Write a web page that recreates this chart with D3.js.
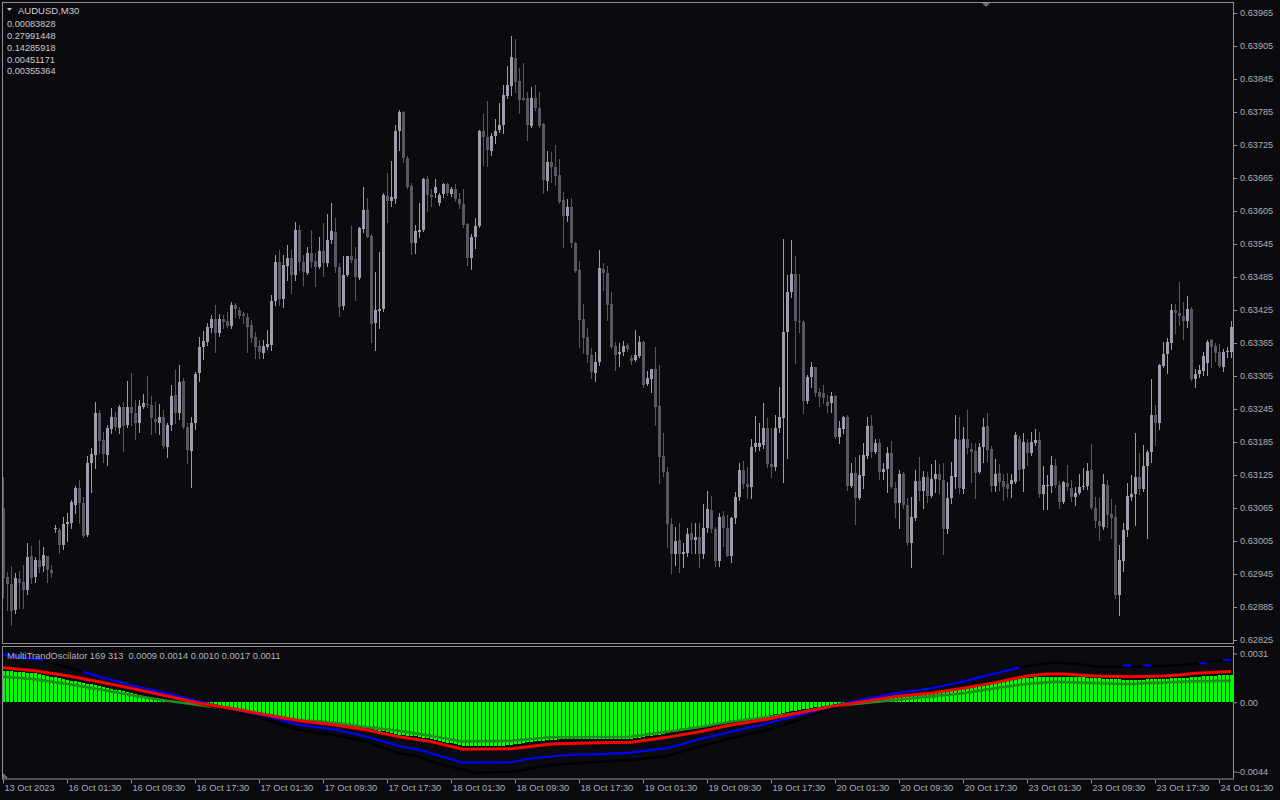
<!DOCTYPE html>
<html><head><meta charset="utf-8">
<script src="https://cdn.jsdelivr.net/npm/d3@7"></script>
<style>
html,body{margin:0;padding:0;background:#0b0b0f;overflow:hidden;}
svg{display:block;}
text{font-family:"Liberation Sans",Arial,sans-serif;white-space:pre;}
</style></head><body>
<svg id="c" width="1280" height="800"></svg>
<script>
const symbolTitle = "AUDUSD,M30";
const infoValues = ["0.00083828","0.27991448","0.14285918","0.00451171","0.00355364"];
const oscTitle = "MultiTrandOscilator 169 313  0.0009 0.0014 0.0010 0.0017 0.0011";

const opens = [0.63065,0.62940,0.62927,0.62880,0.62936,0.62930,0.62916,0.62978,0.62940,0.62970,
0.62960,0.62978,0.62952,0.63027,0.63025,0.62998,0.63036,0.63038,0.63070,0.63101,
0.63074,0.63016,0.63147,0.63161,0.63238,0.63189,0.63161,0.63209,0.63230,0.63210,
0.63249,0.63216,0.63249,0.63238,0.63220,0.63249,0.63255,0.63253,0.63227,0.63220,
0.63230,0.63176,0.63216,0.63270,0.63238,0.63296,0.63212,0.63169,0.63220,0.63310,
0.63358,0.63367,0.63392,0.63409,0.63383,0.63409,0.63405,0.63396,0.63434,0.63425,
0.63418,0.63412,0.63398,0.63376,0.63360,0.63347,0.63358,0.63361,0.63441,0.63512,
0.63445,0.63505,0.63520,0.63489,0.63570,0.63512,0.63492,0.63529,0.63514,0.63503,
0.63532,0.63510,0.63552,0.63567,0.63503,0.63432,0.63489,0.63524,0.63518,0.63484,
0.63572,0.63606,0.63560,0.63401,0.63423,0.63426,0.63632,0.63623,0.63627,0.63750,
0.63785,0.63701,0.63651,0.63547,0.63566,0.63570,0.63664,0.63635,0.63638,0.63620,
0.63636,0.63655,0.63636,0.63645,0.63627,0.63618,0.63581,0.63520,0.63558,0.63577,
0.63751,0.63740,0.63714,0.63741,0.63752,0.63761,0.63815,0.63832,0.63884,0.63842,
0.63810,0.63810,0.63760,0.63810,0.63792,0.63763,0.63660,0.63694,0.63685,0.63670,
0.63625,0.63596,0.63612,0.63547,0.63498,0.63408,0.63375,0.63343,0.63310,0.63330,
0.63500,0.63492,0.63436,0.63360,0.63345,0.63349,0.63361,0.63338,0.63334,0.63342,
0.63366,0.63290,0.63300,0.63318,0.63250,0.63160,0.63130,0.63036,0.62981,0.63006,
0.62981,0.62983,0.63019,0.63007,0.63013,0.62981,0.63028,0.63062,0.63027,0.62969,
0.63050,0.63029,0.62978,0.63047,0.63085,0.63134,0.63109,0.63103,0.63176,0.63176,
0.63180,0.63210,0.63145,0.63140,0.63210,0.63229,0.63385,0.63458,0.63490,0.63405,
0.63404,0.63259,0.63303,0.63321,0.63276,0.63274,0.63258,0.63256,0.63269,0.63194,
0.63209,0.63231,0.63105,0.63129,0.63083,0.63124,0.63160,0.63214,0.63167,0.63183,
0.63130,0.63136,0.63165,0.63102,0.63074,0.63127,0.63070,0.63001,0.63047,0.63114,
0.63096,0.63121,0.63087,0.63117,0.63127,0.63116,0.63027,0.63083,0.63121,0.63189,
0.63099,0.63190,0.63172,0.63169,0.63131,0.63176,0.63214,0.63172,0.63105,0.63129,
0.63114,0.63109,0.63109,0.63112,0.63190,0.63136,0.63183,0.63165,0.63183,0.63189,
0.63090,0.63105,0.63105,0.63141,0.63107,0.63076,0.63110,0.63101,0.63085,0.63092,
0.63103,0.63105,0.63134,0.63065,0.63041,0.63030,0.63107,0.63054,0.63049,0.62907,
0.62969,0.63025,0.63085,0.63090,0.63121,0.63100,0.63141,0.63167,0.63234,0.63220,
0.63323,0.63345,0.63365,0.63425,0.63420,0.63414,0.63405,0.63427,0.63300,0.63309,
0.63314,0.63329,0.63370,0.63360,0.63349,0.63321,0.63349,0.63349];

const highs = [0.63121,0.62949,0.62960,0.62947,0.62950,0.62961,0.63001,0.62996,0.62976,0.63007,
0.62994,0.62978,0.62961,0.63034,0.63029,0.63049,0.63056,0.63080,0.63105,0.63116,
0.63085,0.63160,0.63174,0.63258,0.63243,0.63203,0.63216,0.63247,0.63240,0.63252,
0.63258,0.63296,0.63310,0.63261,0.63261,0.63272,0.63305,0.63269,0.63258,0.63254,
0.63243,0.63220,0.63289,0.63316,0.63325,0.63301,0.63220,0.63230,0.63312,0.63376,
0.63387,0.63401,0.63416,0.63434,0.63418,0.63416,0.63421,0.63440,0.63438,0.63430,
0.63421,0.63420,0.63407,0.63385,0.63370,0.63370,0.63389,0.63452,0.63525,0.63534,
0.63525,0.63543,0.63534,0.63585,0.63580,0.63525,0.63540,0.63570,0.63529,0.63558,
0.63583,0.63600,0.63620,0.63592,0.63510,0.63523,0.63524,0.63578,0.63540,0.63576,
0.63649,0.63629,0.63563,0.63494,0.63530,0.63638,0.63674,0.63696,0.63761,0.63789,
0.63786,0.63705,0.63656,0.63580,0.63620,0.63665,0.63669,0.63645,0.63663,0.63638,
0.63656,0.63656,0.63649,0.63654,0.63638,0.63645,0.63583,0.63563,0.63592,0.63752,
0.63781,0.63805,0.63747,0.63772,0.63801,0.63834,0.63869,0.63923,0.63918,0.63865,
0.63874,0.63821,0.63830,0.63834,0.63821,0.63765,0.63714,0.63712,0.63725,0.63700,
0.63640,0.63627,0.63629,0.63549,0.63514,0.63436,0.63392,0.63356,0.63349,0.63534,
0.63510,0.63505,0.63458,0.63367,0.63365,0.63369,0.63365,0.63343,0.63389,0.63378,
0.63369,0.63314,0.63318,0.63358,0.63325,0.63201,0.63140,0.63047,0.63030,0.63038,
0.63001,0.63029,0.63038,0.63038,0.63038,0.63072,0.63096,0.63087,0.63030,0.63056,
0.63060,0.63052,0.63049,0.63094,0.63147,0.63150,0.63140,0.63190,0.63232,0.63220,
0.63256,0.63229,0.63210,0.63234,0.63285,0.63554,0.63489,0.63552,0.63523,0.63490,
0.63406,0.63307,0.63330,0.63322,0.63283,0.63289,0.63270,0.63276,0.63270,0.63223,
0.63232,0.63234,0.63147,0.63158,0.63161,0.63183,0.63230,0.63234,0.63190,0.63190,
0.63147,0.63176,0.63187,0.63112,0.63134,0.63130,0.63083,0.63085,0.63134,0.63158,
0.63132,0.63130,0.63145,0.63152,0.63145,0.63147,0.63112,0.63149,0.63234,0.63230,
0.63212,0.63243,0.63183,0.63183,0.63183,0.63229,0.63238,0.63178,0.63154,0.63145,
0.63127,0.63129,0.63127,0.63203,0.63196,0.63201,0.63190,0.63203,0.63209,0.63203,
0.63141,0.63125,0.63160,0.63154,0.63114,0.63114,0.63143,0.63116,0.63103,0.63127,
0.63138,0.63147,0.63181,0.63085,0.63083,0.63127,0.63116,0.63081,0.63070,0.62998,
0.63038,0.63110,0.63125,0.63201,0.63165,0.63180,0.63170,0.63299,0.63252,0.63327,
0.63367,0.63374,0.63436,0.63436,0.63476,0.63440,0.63450,0.63430,0.63318,0.63325,
0.63349,0.63370,0.63372,0.63365,0.63363,0.63354,0.63358,0.63405];

const lows = [0.62903,0.62880,0.62852,0.62874,0.62883,0.62883,0.62909,0.62929,0.62930,0.62949,
0.62950,0.62930,0.62940,0.63021,0.62983,0.62990,0.63005,0.63029,0.63056,0.63038,
0.63012,0.63015,0.63094,0.63138,0.63165,0.63149,0.63143,0.63201,0.63207,0.63201,
0.63169,0.63212,0.63216,0.63190,0.63203,0.63247,0.63249,0.63200,0.63203,0.63200,
0.63174,0.63158,0.63207,0.63220,0.63227,0.63211,0.63147,0.63103,0.63209,0.63296,
0.63336,0.63361,0.63385,0.63349,0.63378,0.63392,0.63394,0.63392,0.63412,0.63410,
0.63401,0.63349,0.63367,0.63338,0.63338,0.63338,0.63354,0.63352,0.63434,0.63434,
0.63430,0.63480,0.63456,0.63480,0.63498,0.63470,0.63491,0.63503,0.63469,0.63501,
0.63487,0.63505,0.63547,0.63494,0.63414,0.63427,0.63487,0.63512,0.63443,0.63481,
0.63567,0.63557,0.63367,0.63352,0.63392,0.63424,0.63585,0.63614,0.63620,0.63716,
0.63694,0.63647,0.63527,0.63529,0.63558,0.63568,0.63605,0.63614,0.63630,0.63616,
0.63630,0.63634,0.63632,0.63623,0.63610,0.63576,0.63507,0.63500,0.63538,0.63575,
0.63689,0.63687,0.63707,0.63729,0.63749,0.63747,0.63810,0.63816,0.63821,0.63783,
0.63806,0.63734,0.63757,0.63789,0.63758,0.63638,0.63643,0.63658,0.63652,0.63620,
0.63540,0.63587,0.63540,0.63494,0.63358,0.63347,0.63330,0.63301,0.63296,0.63325,
0.63461,0.63407,0.63356,0.63316,0.63323,0.63343,0.63350,0.63327,0.63332,0.63340,
0.63285,0.63288,0.63276,0.63216,0.63110,0.63123,0.62994,0.62947,0.62961,0.62949,
0.62958,0.62978,0.62983,0.62983,0.62958,0.62974,0.63021,0.63021,0.62960,0.62960,
0.62996,0.62977,0.62967,0.63038,0.63080,0.63101,0.63083,0.63083,0.63169,0.63170,
0.63174,0.63140,0.63121,0.63134,0.63203,0.63112,0.63156,0.63449,0.63329,0.63385,
0.63238,0.63256,0.63285,0.63269,0.63250,0.63256,0.63240,0.63240,0.63193,0.63183,
0.63201,0.63098,0.63103,0.63036,0.63082,0.63101,0.63156,0.63158,0.63165,0.63118,
0.63118,0.63094,0.63102,0.63049,0.63029,0.63065,0.62998,0.62958,0.63043,0.63080,
0.63065,0.63076,0.63085,0.63094,0.63092,0.62981,0.63019,0.63074,0.63101,0.63092,
0.63092,0.63165,0.63112,0.63083,0.63129,0.63149,0.63150,0.63096,0.63096,0.63098,
0.63080,0.63085,0.63085,0.63110,0.63116,0.63096,0.63143,0.63161,0.63180,0.63085,
0.63063,0.63063,0.63094,0.63103,0.63065,0.63074,0.63098,0.63078,0.63070,0.63090,
0.63100,0.63100,0.63063,0.63030,0.63007,0.63027,0.63030,0.63010,0.62901,0.62870,
0.62950,0.63014,0.63080,0.63034,0.63090,0.63096,0.63010,0.63149,0.63180,0.63209,
0.63321,0.63310,0.63354,0.63383,0.63398,0.63372,0.63394,0.63298,0.63285,0.63303,
0.63307,0.63307,0.63321,0.63332,0.63321,0.63314,0.63340,0.63340];

const closes = [0.62938,0.62927,0.62878,0.62938,0.62929,0.62916,0.62976,0.62938,0.62970,0.62958,
0.62980,0.62952,0.62947,0.63028,0.62998,0.63036,0.63040,0.63076,0.63101,0.63074,
0.63014,0.63147,0.63163,0.63238,0.63187,0.63163,0.63210,0.63230,0.63212,0.63249,
0.63214,0.63249,0.63238,0.63220,0.63250,0.63256,0.63254,0.63229,0.63221,0.63230,
0.63178,0.63216,0.63269,0.63238,0.63294,0.63212,0.63170,0.63220,0.63309,0.63358,
0.63369,0.63394,0.63409,0.63383,0.63409,0.63403,0.63396,0.63434,0.63427,0.63414,
0.63414,0.63394,0.63374,0.63358,0.63349,0.63360,0.63363,0.63441,0.63512,0.63445,
0.63507,0.63520,0.63489,0.63570,0.63512,0.63494,0.63529,0.63512,0.63503,0.63532,
0.63510,0.63552,0.63569,0.63503,0.63430,0.63489,0.63523,0.63516,0.63485,0.63574,
0.63607,0.63558,0.63400,0.63425,0.63427,0.63634,0.63623,0.63630,0.63750,0.63785,
0.63701,0.63649,0.63547,0.63569,0.63570,0.63663,0.63634,0.63630,0.63649,0.63634,
0.63655,0.63638,0.63645,0.63627,0.63618,0.63580,0.63520,0.63558,0.63578,0.63750,
0.63740,0.63716,0.63741,0.63750,0.63761,0.63816,0.63834,0.63885,0.63840,0.63807,
0.63807,0.63761,0.63810,0.63792,0.63760,0.63661,0.63694,0.63685,0.63669,0.63621,
0.63596,0.63612,0.63547,0.63496,0.63407,0.63374,0.63343,0.63312,0.63330,0.63501,
0.63492,0.63434,0.63358,0.63343,0.63349,0.63360,0.63354,0.63332,0.63343,0.63367,
0.63289,0.63301,0.63317,0.63249,0.63158,0.63130,0.63036,0.62981,0.63005,0.62981,
0.62985,0.63018,0.63007,0.63012,0.62981,0.63029,0.63063,0.63027,0.62969,0.63049,
0.63029,0.62978,0.63047,0.63085,0.63134,0.63109,0.63103,0.63176,0.63183,0.63183,
0.63210,0.63145,0.63140,0.63210,0.63230,0.63385,0.63458,0.63490,0.63405,0.63404,
0.63260,0.63303,0.63321,0.63274,0.63267,0.63265,0.63250,0.63269,0.63194,0.63210,
0.63230,0.63105,0.63129,0.63083,0.63125,0.63161,0.63214,0.63167,0.63183,0.63130,
0.63136,0.63165,0.63103,0.63074,0.63127,0.63070,0.63001,0.63049,0.63114,0.63096,
0.63121,0.63087,0.63118,0.63127,0.63116,0.63027,0.63083,0.63123,0.63190,0.63101,
0.63190,0.63174,0.63167,0.63129,0.63176,0.63212,0.63170,0.63105,0.63127,0.63112,
0.63103,0.63100,0.63116,0.63198,0.63134,0.63185,0.63165,0.63185,0.63189,0.63090,
0.63107,0.63107,0.63143,0.63107,0.63076,0.63112,0.63103,0.63085,0.63092,0.63103,
0.63105,0.63132,0.63065,0.63041,0.63032,0.63109,0.63052,0.63047,0.62907,0.62970,
0.63025,0.63087,0.63090,0.63121,0.63100,0.63141,0.63167,0.63234,0.63220,0.63325,
0.63345,0.63367,0.63425,0.63420,0.63414,0.63405,0.63427,0.63299,0.63309,0.63316,
0.63341,0.63367,0.63358,0.63347,0.63323,0.63349,0.63351,0.63394];

const histogram = [0.00201,0.00199,0.00197,0.00194,0.00192,0.00190,0.00188,0.00185,0.00183,0.00178,
0.00173,0.00168,0.00163,0.00158,0.00152,0.00147,0.00142,0.00137,0.00133,0.00128,
0.00123,0.00118,0.00113,0.00109,0.00104,0.00098,0.00093,0.00087,0.00081,0.00075,
0.00069,0.00064,0.00059,0.00053,0.00047,0.00041,0.00035,0.00029,0.00022,0.00016,
0.00012,0.00008,0.00004,0.00002,0.00001,-0.00001,-0.00002,-0.00004,-0.00006,-0.00008,
-0.00012,-0.00015,-0.00019,-0.00023,-0.00026,-0.00030,-0.00034,-0.00038,-0.00042,-0.00046,
-0.00050,-0.00054,-0.00058,-0.00062,-0.00066,-0.00070,-0.00074,-0.00078,-0.00083,-0.00087,
-0.00091,-0.00096,-0.00100,-0.00104,-0.00108,-0.00112,-0.00116,-0.00119,-0.00123,-0.00127,
-0.00130,-0.00134,-0.00138,-0.00141,-0.00144,-0.00147,-0.00150,-0.00153,-0.00156,-0.00159,
-0.00162,-0.00165,-0.00170,-0.00175,-0.00180,-0.00185,-0.00190,-0.00195,-0.00200,-0.00205,
-0.00210,-0.00212,-0.00215,-0.00217,-0.00219,-0.00224,-0.00230,-0.00235,-0.00240,-0.00246,
-0.00251,-0.00257,-0.00262,-0.00267,-0.00273,-0.00278,-0.00279,-0.00279,-0.00279,-0.00278,
-0.00278,-0.00278,-0.00278,-0.00278,-0.00278,-0.00276,-0.00274,-0.00273,-0.00268,-0.00264,
-0.00259,-0.00255,-0.00250,-0.00248,-0.00246,-0.00244,-0.00242,-0.00240,-0.00238,-0.00236,
-0.00234,-0.00233,-0.00233,-0.00232,-0.00233,-0.00234,-0.00233,-0.00232,-0.00233,-0.00233,
-0.00234,-0.00233,-0.00232,-0.00233,-0.00233,-0.00234,-0.00233,-0.00233,-0.00229,-0.00225,
-0.00221,-0.00217,-0.00213,-0.00209,-0.00205,-0.00201,-0.00197,-0.00192,-0.00187,-0.00183,
-0.00178,-0.00173,-0.00168,-0.00164,-0.00159,-0.00155,-0.00150,-0.00146,-0.00141,-0.00137,
-0.00132,-0.00128,-0.00123,-0.00119,-0.00115,-0.00111,-0.00107,-0.00103,-0.00099,-0.00095,
-0.00091,-0.00087,-0.00082,-0.00077,-0.00073,-0.00068,-0.00063,-0.00058,-0.00054,-0.00049,
-0.00045,-0.00041,-0.00037,-0.00033,-0.00029,-0.00025,-0.00021,-0.00017,-0.00014,-0.00011,
-0.00008,-0.00005,-0.00003,0.00003,0.00010,0.00013,0.00016,0.00019,0.00022,0.00025,
0.00028,0.00031,0.00033,0.00036,0.00038,0.00041,0.00043,0.00045,0.00048,0.00050,
0.00052,0.00055,0.00057,0.00060,0.00063,0.00067,0.00070,0.00073,0.00077,0.00080,
0.00083,0.00088,0.00094,0.00099,0.00104,0.00109,0.00115,0.00120,0.00125,0.00129,
0.00134,0.00138,0.00142,0.00146,0.00149,0.00153,0.00156,0.00157,0.00159,0.00160,
0.00162,0.00163,0.00163,0.00163,0.00163,0.00163,0.00162,0.00161,0.00160,0.00159,
0.00158,0.00156,0.00155,0.00153,0.00152,0.00151,0.00149,0.00148,0.00147,0.00146,
0.00144,0.00143,0.00142,0.00143,0.00144,0.00144,0.00145,0.00146,0.00147,0.00149,
0.00150,0.00151,0.00152,0.00153,0.00154,0.00156,0.00157,0.00158,0.00159,0.00161,
0.00164,0.00166,0.00169,0.00170,0.00171,0.00173,0.00174,0.00175];

const redBars = [0,8,16,24,32,41,49,58,66,74,83,91,99,107,115,127,137,149,157,166,174,182,191,199,207,215,223,232,240,248,252,256,261,265,273,282,290,294,298,307];
const redVals = [0.00220,0.00201,0.00169,0.00131,0.00089,0.00040,-0.00006,-0.00043,-0.00081,-0.00117,-0.00144,-0.00176,-0.00219,-0.00250,-0.00299,-0.00295,-0.00265,-0.00257,-0.00254,-0.00223,-0.00187,-0.00144,-0.00108,-0.00066,-0.00026,0.00004,0.00036,0.00057,0.00089,0.00125,0.00146,0.00167,0.00180,0.00180,0.00167,0.00163,0.00167,0.00174,0.00184,0.00195];

const greenBars = [0,8,16,24,32,41,49,58,66,74,83,91,99,104,115,127,137,157,166,174,182,191,199,207,215,223,232,240,248,252,256,263,269,273,282,290,298,307];
const greenVals = [0.00163,0.00146,0.00116,0.00083,0.00046,0.00010,-0.00017,-0.00049,-0.00081,-0.00113,-0.00130,-0.00159,-0.00181,-0.00202,-0.00250,-0.00244,-0.00223,-0.00219,-0.00187,-0.00159,-0.00123,-0.00095,-0.00066,-0.00025,-0.00006,0.00015,0.00036,0.00057,0.00089,0.00104,0.00116,0.00131,0.00125,0.00121,0.00116,0.00125,0.00133,0.00137];

const blueBars = [0,5,10,11,20,24,32,41,49,58,66,74,83,91,99,104,107,115,127,132,141,149,157,166,174,182,191,199,207,215,223,232,240,248,254,255,280,282,283,285,287,288,299,301,302,305,307];
const blueVals = [0.00301,0.00285,0.00268,null,0.00195,0.00163,0.00110,0.00057,0.00004,-0.00049,-0.00087,-0.00144,-0.00172,-0.00219,-0.00278,-0.00303,-0.00324,-0.00384,-0.00381,-0.00356,-0.00335,-0.00329,-0.00320,-0.00292,-0.00235,-0.00187,-0.00134,-0.00081,-0.00028,0.00019,0.00057,0.00089,0.00131,0.00184,0.00220,null,0.00234,0.00234,null,0.00235,0.00235,null,0.00248,0.00248,null,0.00266,0.00272];

const blackBars = [0,10,15,20,24,32,41,49,58,66,74,83,91,99,104,107,118,127,137,149,157,166,174,182,191,199,207,215,223,232,240,248,253,256,263,269,273,282,290,298,307];
const blackVals = [0.00301,0.00268,0.00230,0.00195,0.00163,0.00110,0.00057,-0.00006,-0.00060,-0.00113,-0.00176,-0.00208,-0.00250,-0.00324,-0.00346,-0.00378,-0.00448,-0.00443,-0.00399,-0.00378,-0.00367,-0.00341,-0.00282,-0.00229,-0.00176,-0.00113,-0.00038,0.00019,0.00057,0.00089,0.00131,0.00184,0.00216,0.00231,0.00252,0.00243,0.00226,0.00226,0.00231,0.00243,0.00269];

const priceTicks = [0.63965,0.63905,0.63845,0.63785,0.63725,0.63665,0.63605,0.63545,0.63485,0.63425,0.63365,0.63305,0.63245,0.63185,0.63125,0.63065,0.63005,0.62945,0.62885,0.62825];
const oscTicks = [0.0031, 0.0, -0.0044];
const oscTickLabels = ["0.0031","0.00","-0.0044"];
const timeTickBars = [0,16,32,48,64,80,96,112,128,144,160,176,192,208,224,240,256,272,288,304];
const timeLabels = ["13 Oct 2023","16 Oct 01:30","16 Oct 09:30","16 Oct 17:30","17 Oct 01:30","17 Oct 09:30","17 Oct 17:30","18 Oct 01:30","18 Oct 09:30","18 Oct 17:30","19 Oct 01:30","19 Oct 09:30","19 Oct 17:30","20 Oct 01:30","20 Oct 09:30","20 Oct 17:30","23 Oct 01:30","23 Oct 09:30","23 Oct 17:30","24 Oct 01:30"];

// ---------- drawing ----------
const BG = "#0b0b0f", FRAME = "#8e8e98", AXTXT = "#a9adba", BULL = "#9d9dab", BEAR = "#58585e";
const svg = d3.select("#c");
svg.append("rect").attr("width",1280).attr("height",800).attr("fill",BG);

const N = closes.length;
const x = d3.scaleLinear().domain([0, N-1]).range([3, 3 + 4*(N-1)]);
const yP = d3.scaleLinear().domain([0.62825, 0.63965]).range([640, 13]);
const yO = d3.scaleLinear().domain([-0.0044, 0.0031]).range([771.5, 653.5]);

const defs = svg.append("defs");
defs.append("clipPath").attr("id","clipMain").append("rect").attr("x",3).attr("y",3).attr("width",1230).attr("height",640);
defs.append("clipPath").attr("id","clipOsc").append("rect").attr("x",3).attr("y",647).attr("width",1230).attr("height",132);

const idx = d3.range(N);
const gC = svg.append("g").attr("clip-path","url(#clipMain)");
const col = i => closes[i] >= opens[i] ? BULL : BEAR;
gC.selectAll("rect.wick").data(idx).join("rect").attr("class","wick")
  .attr("x", i => Math.round(x(i)))
  .attr("y", i => Math.round(yP(highs[i])))
  .attr("width", 1)
  .attr("height", i => Math.max(1, Math.round(yP(lows[i])) - Math.round(yP(highs[i])) + 1))
  .attr("fill", col);
gC.selectAll("rect.body").data(idx).join("rect").attr("class","body")
  .attr("x", i => Math.round(x(i)) - 1)
  .attr("y", i => Math.round(yP(Math.max(opens[i], closes[i]))))
  .attr("width", 3)
  .attr("height", i => Math.max(1, Math.round(yP(Math.min(opens[i], closes[i]))) - Math.round(yP(Math.max(opens[i], closes[i])))))
  .attr("fill", col);

// oscillator
const gO = svg.append("g").attr("clip-path","url(#clipOsc)");
const y0 = Math.round(yO(0));
gO.selectAll("rect.h").data(idx).join("rect").attr("class","h")
  .attr("x", i => Math.round(x(i)) - 1)
  .attr("y", i => Math.min(y0, Math.round(yO(histogram[i]))))
  .attr("width", 3)
  .attr("height", i => Math.abs(Math.round(yO(histogram[i])) - y0))
  .attr("fill", "#00ff00");

const mkLine = (bars, vals) => bars.map((b,k) => [b, vals[k]]);
const line = d3.line().defined(d => d[1] !== null).x(d => x(d[0])).y(d => yO(d[1]));
gO.append("path").datum(mkLine(greenBars, greenVals)).attr("d", line).attr("fill","none").attr("stroke","#228b22").attr("stroke-width",2.5);
gO.append("path").datum(mkLine(blackBars, blackVals)).attr("d", line).attr("fill","none").attr("stroke","#000000").attr("stroke-width",2.5);
gO.append("path").datum(mkLine(blueBars, blueVals)).attr("d", line).attr("fill","none").attr("stroke","#0000ff").attr("stroke-width",2.2);
gO.append("path").datum(mkLine(redBars, redVals)).attr("d", line).attr("fill","none").attr("stroke","#ff0000").attr("stroke-width",3);

// frames
svg.append("rect").attr("x",2.5).attr("y",2.5).attr("width",1231).attr("height",641).attr("fill","none").attr("stroke",FRAME);
svg.append("rect").attr("x",2.5).attr("y",646.5).attr("width",1231).attr("height",132.5).attr("fill","none").attr("stroke",FRAME);

function styleAxis(g){
  g.select(".domain").remove();
  g.selectAll(".tick line").attr("stroke", FRAME);
  g.selectAll(".tick text").attr("fill", AXTXT).style("font-size","9.2px").style("font-family","'Liberation Sans',Arial,sans-serif");
}
const axP = d3.axisRight(yP).tickValues(priceTicks).tickSize(3).tickPadding(3).tickFormat(d3.format(".5f"));
svg.append("g").attr("transform","translate(1234,0)").call(axP).call(styleAxis);
const axO = d3.axisRight(yO).tickValues(oscTicks).tickSize(3).tickPadding(3).tickFormat((d,k) => oscTickLabels[k]);
const gAO = svg.append("g").attr("transform","translate(1234,0)").call(axO).call(styleAxis);
gAO.selectAll(".tick text").attr("x", (d) => d < 0 ? 3 : 6);
const axT = d3.axisBottom(x).tickValues(timeTickBars).tickSize(4).tickFormat((d,k) => timeLabels[k]);
const gAT = svg.append("g").attr("transform","translate(0,779.5)").call(axT).call(styleAxis);
gAT.selectAll(".tick text").attr("text-anchor","start").attr("x",1).attr("y",5);

// texts
svg.append("path").attr("d","M7,8 L12,8 L9.5,11 Z").attr("fill","#c8c8d0");
svg.append("text").attr("x",18).attr("y",14).attr("fill","#d0d0d8").style("font-size","9.5px").text(symbolTitle);
const infoY = [27, 38.5, 50.5, 62.5, 74.3];
svg.selectAll("text.info").data(infoValues).join("text").attr("class","info")
  .attr("x",7).attr("y",(d,k)=>infoY[k]).attr("fill","#c8c8d0").style("font-size","9.2px").text(d=>d);
svg.append("text").attr("x",7).attr("y",659).attr("fill","#b4b4be").style("font-size","9.3px").text(oscTitle);
svg.append("path").attr("d","M982,3 L990,3 L986,7 Z").attr("fill","#6e6e78");
svg.append("path").attr("d","M3,773 L3,778 L8,778 Z").attr("fill","#6e6e78");
</script>
</body></html>
